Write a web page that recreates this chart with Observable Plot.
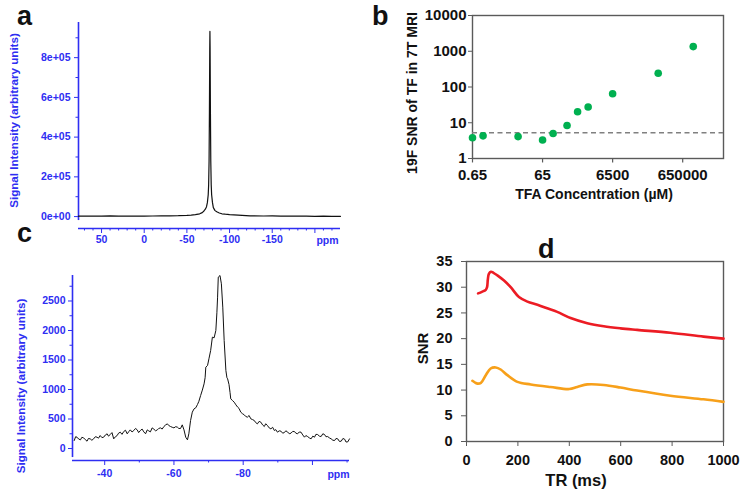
<!DOCTYPE html>
<html>
<head>
<meta charset="utf-8">
<script src="https://cdn.jsdelivr.net/npm/d3@7"></script>
<script src="https://cdn.jsdelivr.net/npm/@observablehq/plot@0.6"></script>
<style>
  html, body { margin: 0; padding: 0; background: #fff; }
  #fig { position: relative; width: 742px; height: 491px; background: #fff; overflow: hidden; }
  #fig > svg, #fig > figure { position: absolute; margin: 0; }
  .lab { position: absolute; font-family: "Liberation Sans", Arial, sans-serif; font-weight: bold; font-size: 27px; color: #111; line-height: 1; }
</style>
</head>
<body>
<div id="fig"></div>
<script>
// ---------- Panel a: full 19F spectrum ----------
const aPpm = [77, 70, 60, 50, 40, 30, 20, 10, 0, -10, -20, -30, -40, -50, -55, -60, -65, -68, -70, -72, -73, -74, -75, -75.5, -76, -76.4, -76.8, -77, -77.2, -77.6, -78, -78.5, -79, -80, -81, -83, -85, -88, -91, -95, -100, -110, -124, -140, -150, -160, -170, -180, -190, -200, -210, -220, -230];
const aVal = [2000, 2500, 3000, 2000, 3500, 2500, 3000, 2000, 2500, 3000, 3500, 4000, 4500, 6000, 7500, 9500, 14000, 20000, 28000, 40000, 50000, 70000, 110000, 160000, 280000, 520000, 850000, 932000, 850000, 520000, 280000, 160000, 110000, 70000, 45000, 30000, 24000, 18000, 14000, 12000, 10000, 7000, 4000, 3000, 3500, 2500, 2000, 2500, 2000, 1500, 2000, 1500, 1500];
const aYMajor = [0, 200000, 400000, 600000, 800000];
const aYMinor = [100000, 300000, 500000, 700000, 900000];
const aXMajor = [50, 0, -50, -100, -150, -200];
const aXMinor = [70, 60, 40, 30, 20, 10, -10, -20, -30, -40, -60, -70, -80, -90, -110, -120, -130, -140, -160, -170, -180, -190, -210, -220];

// ---------- Panel b: SNR vs concentration ----------
const bConc = [0.65, 1.3, 13, 65, 130, 325, 650, 1300, 6500, 130000, 1300000];
const bSnr = [3.8, 4.3, 4.1, 3.3, 5.0, 8.4, 20.3, 27.5, 65, 242, 1350];
const bThreshold = [5.25];
const bXTicks = [0.65, 65, 6500, 650000];
const bYTicks = [1, 10, 100, 1000, 10000];

// ---------- Panel c: zoomed spectrum ----------
const cPpm = [-31.2,-31.6,-32.0,-32.5,-33.0,-33.4,-33.9,-34.4,-34.9,-35.3,-35.8,-36.3,-36.8,-37.3,-37.8,-38.2,-38.7,-39.2,-39.7,-40.2,-40.7,-41.1,-41.6,-42.1,-42.6,-43.1,-43.6,-44.0,-44.5,-45.0,-45.5,-46.0,-46.5,-47.0,-47.4,-47.9,-48.4,-48.9,-49.4,-49.8,-50.3,-50.8,-51.3,-51.8,-52.3,-52.7,-53.2,-53.7,-54.2,-54.7,-55.2,-55.6,-56.1,-56.6,-57.1,-57.6,-58.1,-58.5,-59.0,-59.5,-60.0,-60.5,-61.0,-61.4,-61.9,-62.4,-62.9,-63.4,-63.9,-64.3,-64.8,-65.3,-65.8,-66.3,-66.8,-67.2,-67.7,-68.2,-68.7,-69.0,-69.2,-69.7,-70.1,-70.6,-71.1,-71.6,-72.1,-72.4,-72.6,-72.8,-73.3,-73.7,-74.1,-74.5,-75.0,-75.3,-75.5,-75.9,-76.2,-76.4,-76.9,-77.4,-77.9,-78.4,-78.8,-79.3,-79.8,-80.3,-80.7,-81.2,-81.7,-82.2,-82.7,-83.2,-83.6,-84.1,-84.6,-85.1,-85.6,-86.1,-86.5,-87.0,-87.5,-88.0,-88.5,-89.0,-89.4,-89.9,-90.4,-90.9,-91.4,-91.9,-92.3,-92.8,-93.3,-93.8,-94.3,-94.8,-95.2,-95.7,-96.2,-96.7,-97.2,-97.7,-98.1,-98.6,-99.1,-99.6,-100.1,-100.6,-101.0,-101.5,-102.0,-102.5,-103.0,-103.5,-103.9,-104.4,-104.9,-105.4,-105.9,-106.4,-106.8,-107.3,-107.8,-108.3,-108.8,-109.3,-109.7,-110.2,-110.7];
const cVal = [136,200,192,160,147,190,181,150,124,170,164,140,164,200,192,175,220,185,192,230,249,210,237,270,164,200,220,260,277,240,288,310,249,290,316,280,305,340,316,270,305,330,282,250,316,300,282,350,328,300,316,340,350,330,373,400,418,390,373,360,350,370,362,340,339,401,316,192,147,249,475,616,672,690,746,800,898,990,1096,1200,1379,1407,1520,1661,1887,1876,2000,2300,2565,2904,2932,2791,2396,1831,1322,1200,1181,1085,950,842,814,785,740,701,680,616,590,571,545,531,560,503,490,475,440,418,460,446,400,373,420,390,350,333,360,305,320,277,300,294,260,271,300,282,250,260,290,288,260,249,280,277,230,192,220,203,180,164,210,192,240,237,210,203,250,237,200,203,180,164,140,136,170,164,120,124,170,158,110,113,164];
const cYMajor = [0, 500, 1000, 1500, 2000, 2500];
const cYMinor = [250, 750, 1250, 1750, 2250, 2750];
const cXMajor = [-40, -60, -80, -100];
const cXMinor = [-50, -70, -90, -110];

// ---------- Panel d: SNR vs TR ----------
const dRedTR = [45, 60, 75, 80, 83, 87, 95, 105, 120, 146, 172, 204, 237, 276, 314, 353, 405, 470, 534, 599, 664, 793, 922, 1000];
const dRedSNR = [28.8, 29.1, 29.5, 30.0, 31.5, 32.6, 33.0, 32.8, 32.3, 31.3, 30.0, 28.1, 27.2, 26.6, 25.9, 25.2, 24.0, 23.0, 22.4, 22.0, 21.7, 21.15, 20.4, 20.0];
const dOrTR = [23, 35, 43, 56, 75, 94, 114, 133, 159, 198, 250, 327, 400, 431, 470, 534, 599, 664, 793, 922, 1000];
const dOrSNR = [11.8, 11.4, 11.25, 11.4, 12.9, 14.2, 14.4, 14.0, 12.9, 11.6, 11.1, 10.6, 10.2, 10.6, 11.1, 11.0, 10.5, 9.9, 8.9, 8.2, 7.7];
const dXTicks = [0, 200, 400, 600, 800, 1000];
const dYTicks = [0, 5, 10, 15, 20, 25, 30, 35];

// ---------- Build ----------
const FONT = '"Liberation Sans", Arial, Helvetica, sans-serif';
const blue = "#2e2ef2";
const dark = "#111";
const frameGray = "#5a5a5a";
const fig = document.getElementById("fig");

function place(el, left, top) {
  el.style.left = left + "px";
  el.style.top = top + "px";
  fig.appendChild(el);
}
function label(txt, left, top) {
  const d = document.createElement("div");
  d.className = "lab";
  d.textContent = txt;
  d.style.left = left + "px";
  d.style.top = top + "px";
  fig.appendChild(d);
}

const aData = aPpm.map((p, i) => ({ppm: p, v: aVal[i]}));
const cData = cPpm.map((p, i) => ({ppm: p, v: cVal[i]}));
const bData = bConc.map((c, i) => ({c, s: bSnr[i]}));
const dRed = dRedTR.map((t, i) => ({t, s: dRedSNR[i]}));
const dOr = dOrTR.map((t, i) => ({t, s: dOrSNR[i]}));

const aXDom = [77, -230], aYDom = [-60000, 977000];
const A = Plot.plot({
  width: 360, height: 250,
  marginLeft: 78, marginRight: 20, marginTop: 22, marginBottom: 22,
  style: {fontFamily: FONT, fontSize: "10.5px", fontWeight: "bold", background: "transparent", overflow: "visible"},
  x: {domain: aXDom},
  y: {domain: aYDom},
  marks: [
    Plot.ruleX([aXDom[0]], {y1: -20000, y2: aYDom[1], stroke: blue, strokeWidth: 1.6}),
    Plot.ruleY([aYDom[0]], {x1: aXDom[0], x2: aXDom[1], stroke: blue, strokeWidth: 1.6}),
    Plot.axisY({ticks: aYMajor, tickSize: 4, tickPadding: 4, color: blue, label: null,
      tickFormat: d => d === 0 ? "0e+00" : (d / 100000) + "e+05"}),
    Plot.axisY({ticks: aYMinor, tickSize: 2.5, color: blue, label: null, tickFormat: () => ""}),
    Plot.axisX({ticks: aXMajor, anchor: "bottom", tickSize: 5, tickPadding: 2, color: blue, label: null,
      tickFormat: d => d === -200 ? "" : String(d)}),
    Plot.axisX({ticks: aXMinor, anchor: "bottom", tickSize: 2.5, color: blue, label: null, tickFormat: () => ""}),
    Plot.text(["ppm"], {text: d => d, frameAnchor: "bottom-right", dx: -13, dy: 12, textAnchor: "middle", lineAnchor: "middle", fill: blue, fontSize: 10.5}),
    Plot.line(aData, {x: "ppm", y: "v", stroke: "#111", strokeWidth: 1.2}),
    Plot.text(["Signal Intensity (arbitrary units)"], {text: d => d, frameAnchor: "left", textAnchor: "middle", lineAnchor: "middle", rotate: -90, dx: -64, dy: -5, fill: blue, fontSize: 11.6, fontWeight: "bold"})
  ]
});
place(A, 0, 0);

const cXDom = [-30.7, -110.7], cYDom = [-203, 2932];
const C = Plot.plot({
  width: 360, height: 241,
  marginLeft: 72, marginRight: 11, marginTop: 25, marginBottom: 31,
  style: {fontFamily: FONT, fontSize: "10.5px", fontWeight: "bold", background: "transparent", overflow: "visible"},
  x: {domain: cXDom},
  y: {domain: cYDom},
  marks: [
    Plot.ruleX([cXDom[0]], {y1: -153, y2: cYDom[1], stroke: blue, strokeWidth: 1.6}),
    Plot.ruleY([cYDom[0]], {x1: cXDom[0], x2: cXDom[1], stroke: blue, strokeWidth: 1.6}),
    Plot.axisY({ticks: cYMajor, tickSize: 4, tickPadding: 3, color: blue, label: null, tickFormat: d => String(d)}),
    Plot.axisY({ticks: cYMinor, tickSize: 2.5, color: blue, label: null, tickFormat: () => ""}),
    Plot.axisX({ticks: cXMajor, anchor: "bottom", tickSize: 5, tickPadding: 4, color: blue, label: null,
      tickFormat: d => d === -100 ? "" : String(d)}),
    Plot.axisX({ticks: cXMinor, anchor: "bottom", tickSize: 2.5, color: blue, label: null, tickFormat: () => ""}),
    Plot.text(["ppm"], {text: d => d, frameAnchor: "bottom-right", dx: -11, dy: 14, textAnchor: "middle", lineAnchor: "middle", fill: blue, fontSize: 10.5}),
    Plot.line(cData, {x: "ppm", y: "v", stroke: "#111", strokeWidth: 1}),
    Plot.text(["Signal Intensity (arbitrary units)"], {text: d => d, frameAnchor: "left", textAnchor: "middle", lineAnchor: "middle", rotate: -90, dx: -51, dy: 18, fill: blue, fontSize: 11.6, fontWeight: "bold"})
  ]
});
place(C, 0, 250);

const B = Plot.plot({
  width: 382, height: 240,
  marginLeft: 112, marginRight: 19, marginTop: 15, marginBottom: 82,
  style: {fontFamily: FONT, fontSize: "15px", fontWeight: "bold", background: "transparent", overflow: "visible", color: dark},
  x: {type: "log", domain: [0.65, 9.5e6], axis: null},
  y: {type: "log", domain: [1, 10000]},
  marks: [
    Plot.frame({stroke: frameGray, strokeWidth: 1.4}),
    Plot.ruleY(bThreshold, {stroke: "#808080", strokeWidth: 1.5, strokeDasharray: "5,3.5"}),
    Plot.axisY({ticks: bYTicks, tickSize: 4, tickPadding: 2, label: null, stroke: frameGray, fill: dark, tickFormat: d => String(d)}),
    // x ticks and labels drawn with rule/text marks through the log x scale
    Plot.ruleX(bXTicks, {x: d => d, y1: 0.75, y2: 1, stroke: frameGray, strokeWidth: 1.2}),
    Plot.text(bXTicks, {x: d => d, text: d => String(d), frameAnchor: "bottom", dy: 16.5, lineAnchor: "middle", textAnchor: "middle", fill: dark, fontSize: 15, fontWeight: "bold"}),
    Plot.dot(bData, {x: "c", y: "s", r: 3.8, fill: "#00b050", stroke: "none"}),
    Plot.text(["19F SNR of TF in 7T MRI"], {text: d => d, frameAnchor: "left", textAnchor: "middle", lineAnchor: "middle", rotate: -90, dx: -60, dy: 6, fill: dark, fontSize: 14, fontWeight: "bold"}),
    Plot.text(["TFA Concentration (µM)"], {text: d => d, frameAnchor: "bottom", textAnchor: "middle", dx: -4, dy: 36, lineAnchor: "middle", fill: dark, fontSize: 14, fontWeight: "bold"})
  ]
});
place(B, 360, 0);

const D = Plot.plot({
  width: 372, height: 251,
  marginLeft: 96, marginRight: 19, marginTop: 21, marginBottom: 50,
  style: {fontFamily: FONT, fontSize: "14.5px", fontWeight: "bold", background: "transparent", overflow: "visible", color: dark},
  x: {domain: [0, 1000]},
  y: {domain: [0, 35]},
  marks: [
    Plot.frame({stroke: frameGray, strokeWidth: 1.4}),
    Plot.axisY({ticks: dYTicks, tickSize: 5, tickPadding: 9, label: null, stroke: frameGray, fill: dark, tickFormat: d => String(d)}),
    Plot.axisX({ticks: dXTicks, anchor: "bottom", tickSize: 5, tickPadding: 8, label: null, stroke: frameGray, fill: dark, tickFormat: d => String(d)}),
    Plot.line(dRed, {x: "t", y: "s", stroke: "#ec1c24", strokeWidth: 2.6, curve: "catmull-rom"}),
    Plot.line(dOr, {x: "t", y: "s", stroke: "#f7a01a", strokeWidth: 2.6, curve: "catmull-rom"}),
    Plot.text(["SNR"], {text: d => d, frameAnchor: "left", textAnchor: "middle", lineAnchor: "middle", rotate: -90, dx: -43, dy: -3, fill: dark, fontSize: 15, fontWeight: "bold"}),
    Plot.text(["TR (ms)"], {text: d => d, frameAnchor: "bottom", textAnchor: "middle", dx: -19, dy: 39, lineAnchor: "middle", fill: dark, fontSize: 16.5, fontWeight: "bold"})
  ]
});
place(D, 370, 240);

label("a", 17, 3);
label("b", 372, 3);
label("c", 17, 220);
label("d", 538, 236);
</script>
</body>
</html>
